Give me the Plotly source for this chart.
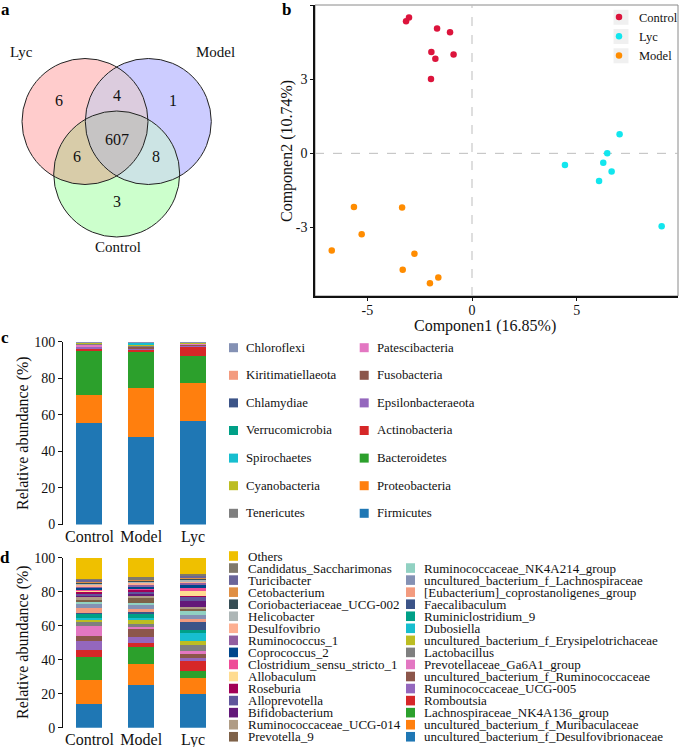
import numpy as np
import plotly.graph_objects as go

W, H = 679, 747
FONT = "Liberation Serif"


def px(x):
    return x / W


def py(y):
    return 1 - y / H


# ---------------- Panel a : Venn ----------------
venn_sets = ["Lyc", "Model", "Control"]
venn_regions = ["Lyc only", "Model only", "Control only", "Lyc&Model", "Lyc&Control", "Model&Control", "All"]
venn_counts = [6, 1, 3, 4, 6, 8, 607]

# ---------------- Panel b : PCA ----------------
control_x = [-3.15, -3.01, -1.67, -1.05, -1.94, -0.88, -1.75, -1.96]
control_y = [5.34, 5.49, 5.05, 4.90, 4.10, 4.00, 3.83, 3.01]
lyc_x = [7.05, 6.46, 4.44, 6.27, 6.67, 6.07, 9.06]
lyc_y = [0.77, 0.00, -0.47, -0.38, -0.73, -1.12, -2.95]
model_x = [-5.64, -3.34, -5.27, -6.70, -2.75, -3.31, -1.61, -2.01]
model_y = [-2.17, -2.19, -3.27, -3.93, -4.06, -4.71, -5.02, -5.25]

# ---------------- Panel c : phylum ----------------
groups = ["Control", "Model", "Lyc"]
phyla = ["Firmicutes", "Proteobacteria", "Bacteroidetes", "Actinobacteria", "Epsilonbacteraeota",
         "Fusobacteria", "Patescibacteria", "Tenericutes", "Cyanobacteria", "Spirochaetes",
         "Verrucomicrobia", "Chlamydiae", "Kiritimatiellaeota", "Chloroflexi"]
phylum_control = [55.8, 15.3, 24.4, 1.0, 0.8, 0.5, 0.8, 0.5, 0.4, 0.1, 0.1, 0.1, 0.1, 0.1]
phylum_model = [47.6, 26.9, 20.0, 1.5, 0.6, 0.7, 0.5, 0.5, 0.3, 0.9, 0.2, 0.1, 0.1, 0.1]
phylum_lyc = [56.7, 20.6, 15.1, 4.9, 0.8, 0.4, 0.5, 0.4, 0.2, 0.1, 0.1, 0.1, 0.05, 0.05]

# ---------------- Panel d : genus ----------------
genera = ["uncultured_bacterium_f_Desulfovibrionaceae", "uncultured_bacterium_f_Muribaculaceae",
          "Lachnospiraceae_NK4A136_group", "Romboutsia", "Ruminococcaceae_UCG-005",
          "uncultured_bacterium_f_Ruminococcaceae", "Prevotellaceae_Ga6A1_group", "Lactobacillus",
          "uncultured_bacterium_f_Erysipelotrichaceae", "Dubosiella", "Ruminiclostridium_9",
          "Faecalibaculum", "[Eubacterium]_coprostanoligenes_group", "uncultured_bacterium_f_Lachnospiraceae",
          "Ruminococcaceae_NK4A214_group", "Prevotella_9", "Ruminococcaceae_UCG-014", "Bifidobacterium",
          "Alloprevotella", "Roseburia", "Allobaculum", "Clostridium_sensu_stricto_1", "Coprococcus_2",
          "Ruminococcus_1", "Desulfovibrio", "Helicobacter", "Coriobacteriaceae_UCG-002", "Cetobacterium",
          "Turicibacter", "Candidatus_Saccharimonas", "Others"]
genus_control = [13.9, 14.1, 13.8, 3.9, 5.3, 2.9, 5.9, 2.4, 1.7, 0.4, 3.0, 0.4, 2.7, 2.1, 1.2, 1.4,
                 2.0, 0.9, 0.6, 1.6, 0.4, 0.6, 1.3, 0.8, 1.0, 0.8, 0.6, 0.4, 1.0, 0.5, 12.4]
genus_model = [24.9, 12.7, 9.7, 2.3, 3.9, 4.5, 1.2, 1.8, 2.7, 1.0, 2.6, 0.9, 1.4, 2.4, 1.5, 3.0,
               1.1, 1.4, 0.8, 1.4, 0.4, 0.6, 1.1, 0.8, 1.2, 0.6, 0.6, 0.8, 0.3, 0.8, 11.6]
genus_lyc = [19.6, 9.5, 4.3, 5.8, 1.6, 3.3, 0.8, 3.5, 2.4, 5.1, 1.6, 4.9, 1.3, 2.4, 2.3, 1.2,
             1.6, 3.5, 2.6, 0.3, 2.8, 2.5, 1.0, 1.8, 0.6, 0.6, 1.3, 0.6, 0.8, 0.6, 9.8]

palette = ["#1F77B4", "#FF7F0E", "#2CA02C", "#D62728", "#9467BD", "#8C564B", "#E377C2", "#7F7F7F",
           "#BCBD22", "#17BECF", "#00A087", "#3C5488", "#F39B7F", "#8491B4", "#91D1C2", "#7E6148",
           "#B09C85", "#631879", "#5F559B", "#A20056", "#FFDC91", "#EE4C97", "#00468B", "#925E9F",
           "#FDAF91", "#ADB6B6", "#374E55", "#DF8F44", "#6A6599", "#80796B", "#EFC000"]

fig = go.Figure()
shapes = []
annotations = []


def note(x, y, text, size, ref="paper", xanchor="center", yanchor="middle", angle=0, color="#111"):
    if ref == "paper":
        x, y = px(x), py(y)
        xr, yr = "paper", "paper"
    else:
        xr, yr = "x", "y"
    annotations.append(dict(x=x, y=y, xref=xr, yref=yr, text=text, showarrow=False,
                            xanchor=xanchor, yanchor=yanchor, textangle=angle,
                            font=dict(family=FONT, size=size, color=color)))


# ---------- Venn geometry ----------
R = 63.0
centers = [(85.0, 121.5), (148.3, 121.5), (116.7, 174.0)]
region_sets = [(0,), (1,), (2,), (0, 1), (0, 2), (1, 2), (0, 1, 2)]
region_colors = ["#FFCCCC", "#CCCCFF", "#CCFFCC", "#DCCCDE", "#D8CCA9", "#CCE4E4", "#C6C4C4"]
region_label_pos = [(59.3, 100), (173.3, 100), (117.3, 201.7), (116.7, 95), (76.7, 156.7), (156, 156.7), (116.7, 139.3)]


def circ(c, r, n=720):
    t = np.linspace(0, 2 * np.pi, n, endpoint=False)
    return np.c_[c[0] + r * np.cos(t), c[1] + r * np.sin(t)]


def inside(p, c, r):
    return (p[:, 0] - c[0]) ** 2 + (p[:, 1] - c[1]) ** 2 <= r * r + 1e-9


def region_poly(idx):
    pts = []
    for i in idx:
        P = circ(centers[i], R)
        mask = np.ones(len(P), bool)
        for j in idx:
            if j != i:
                mask &= inside(P, centers[j], R)
        pts.append(P[mask])
    P = np.vstack(pts)
    m = P.mean(0)
    order = np.argsort(np.arctan2(P[:, 1] - m[1], P[:, 0] - m[0]))
    P = P[order]
    return np.vstack([P, P[:1]])


for idx, col in zip(region_sets, region_colors):
    P = region_poly(idx)
    fig.add_trace(go.Scatter(x=P[:, 0], y=P[:, 1], mode="lines", fill="toself", fillcolor=col,
                             line=dict(width=0), hoverinfo="skip", showlegend=False,
                             xaxis="x", yaxis="y"))

for c in centers:
    shapes.append(dict(type="circle", xref="x", yref="y", x0=c[0] - R, x1=c[0] + R,
                       y0=c[1] - R, y1=c[1] + R, line=dict(color="#222222", width=1)))

for name, cnt, pos in zip(venn_regions, venn_counts, region_label_pos):
    note(pos[0], pos[1], str(cnt), 16, ref="data")
set_label_pos = [(21.7, 51.7), (215.7, 51.7), (117.5, 246.7)]
for s, pos in zip(venn_sets, set_label_pos):
    note(pos[0], pos[1], s, 15, ref="data")

# ---------- Panel b ----------
for nm, xs, ys, col in [("Control", control_x, control_y, "#DC143C"),
                        ("Lyc", lyc_x, lyc_y, "#12E6EE"),
                        ("Model", model_x, model_y, "#FF8C00")]:
    fig.add_trace(go.Scatter(x=xs, y=ys, mode="markers", name=nm,
                             marker=dict(color=col, size=6.5), xaxis="x2", yaxis="y2"))

shapes.append(dict(type="rect", xref="x2 domain", yref="y2 domain", x0=0, x1=1, y0=0, y1=1,
                   line=dict(color="#8A8A8A", width=1), layer="below"))
shapes.append(dict(type="line", xref="x2", yref="y2 domain", x0=0, x1=0, y0=0, y1=1,
                   line=dict(color="#BDBDBD", width=1, dash="dash"), layer="below"))
shapes.append(dict(type="line", xref="x2 domain", yref="y2", x0=0, x1=1, y0=0, y1=0,
                   line=dict(color="#BDBDBD", width=1, dash="dash"), layer="below"))
# legend key backgrounds
for yc in [17.3, 36.55, 55.8]:
    shapes.append(dict(type="rect", xref="paper", yref="paper", x0=px(613.5), x1=px(628.5),
                       y0=py(yc + 7.5), y1=py(yc - 7.5), fillcolor="#F0F0F0",
                       line=dict(width=0), layer="below"))

note(485, 326, "Componen1 (16.85%)", 16)
note(287, 151, "Componen2 (10.74%)", 16, angle=-90)

# ---------- Panel c ----------
for nm, vc, vm, vl, col in zip(phyla, phylum_control, phylum_model, phylum_lyc, palette):
    fig.add_trace(go.Bar(x=groups, y=[vc, vm, vl], name=nm, marker=dict(color=col, line=dict(width=0)),
                         width=0.5, showlegend=False, xaxis="x3", yaxis="y3"))

# ---------- Panel d ----------
for nm, vc, vm, vl, col in zip(genera, genus_control, genus_model, genus_lyc, palette):
    fig.add_trace(go.Bar(x=groups, y=[vc, vm, vl], name=nm, marker=dict(color=col, line=dict(width=0)),
                         width=0.5, showlegend=False, xaxis="x4", yaxis="y4"))

# keys for c and d
rev_ph = list(zip(phyla, palette[:len(phyla)]))[::-1]
for k, (nm, col) in enumerate(rev_ph):
    colidx, row = divmod(k, 7)
    sx = [233.5, 364.2][colidx]
    tx = [244.3, 375.0][colidx]
    yc = 347.7 + 27.6 * row
    shapes.append(dict(type="rect", xref="paper", yref="paper", x0=px(sx - 4.5), x1=px(sx + 4.5),
                       y0=py(yc + 4.5), y1=py(yc - 4.5), fillcolor=col, line=dict(width=0)))
    note(tx, yc, nm, 12.8, xanchor="left")

rev_ge = list(zip(genera, palette))[::-1]
for k, (nm, col) in enumerate(rev_ge):
    if k < 16:
        row, sx, tx = k, 233.5, 245.7
    else:
        row, sx, tx = k - 15, 410.5, 421.7
    yc = 556.0 + 12.05 * row
    shapes.append(dict(type="rect", xref="paper", yref="paper", x0=px(sx - 4.5), x1=px(sx + 4.5),
                       y0=py(yc + 4.8), y1=py(yc - 4.8), fillcolor=col, line=dict(width=0)))
    note(tx, yc, nm, 13, xanchor="left")

for yc in [433, 642]:
    note(23, yc, "Relative abundance (%)", 16, angle=-90)

for lt, (lx, ly) in zip(["a", "b", "c", "d"], [(5, 9), (286, 9), (5, 337), (5, 557)]):
    note(lx, ly, "<b>%s</b>" % lt, 17, color="#000")

tickfont = dict(family=FONT, size=14, color="#111")
bar_y = dict(range=[0, 100], tickvals=[0, 20, 40, 60, 80, 100], ticks="outside", ticklen=4,
             tickcolor="#111", showline=True, linecolor="#111", linewidth=1, showgrid=False,
             zeroline=False, tickfont=tickfont)
bar_x = dict(type="category", categoryorder="array", categoryarray=groups, range=[-0.51, 2.51],
             showline=False, ticks="", showgrid=False, zeroline=False,
             tickfont=dict(family=FONT, size=16, color="#111"))

fig.update_layout(
    width=W, height=H, margin=dict(l=0, r=0, t=0, b=0, pad=0, autoexpand=False),
    paper_bgcolor="white", plot_bgcolor="rgba(0,0,0,0)",
    barmode="stack", bargap=0.5,
    font=dict(family=FONT, color="#111"),
    xaxis=dict(domain=[0, px(300)], range=[0, 300], visible=False, fixedrange=True),
    yaxis=dict(domain=[py(300), 1], range=[300, 0], visible=False, fixedrange=True),
    xaxis2=dict(domain=[px(315), px(678)], range=[-7.5, 9.84], tickvals=[-5, 0, 5],
                ticktext=["-5", "0", "5"], ticks="outside", ticklen=3, tickcolor="#111",
                showline=True, linecolor="#111", linewidth=1.6, showgrid=False, zeroline=False,
                tickfont=tickfont, anchor="y2", ticklabelstandoff=-3),
    yaxis2=dict(domain=[py(296), py(5)], range=[-5.77, 6], tickvals=[-3, 0, 3, 6],
                ticktext=["-3", "0", "3", "6"], ticks="outside", ticklen=3, tickcolor="#111",
                showline=True, linecolor="#111", linewidth=1.6, showgrid=False, zeroline=False,
                tickfont=tickfont, anchor="x2"),
    xaxis3=dict(domain=[px(63), px(219.5)], anchor="y3", **bar_x),
    yaxis3=dict(domain=[py(524.5), py(341.7)], anchor="x3", **bar_y),
    xaxis4=dict(domain=[px(63), px(219.5)], anchor="y4", **bar_x),
    yaxis4=dict(domain=[py(727.7), py(557.7)], anchor="x4", **bar_y),
    legend=dict(x=px(599), y=py(2.3), xanchor="left", yanchor="top", bgcolor="rgba(0,0,0,0)",
                font=dict(family=FONT, size=12.5, color="#111"), tracegroupgap=0,
                traceorder="normal"),
    shapes=shapes, annotations=annotations,
)

fig.write_html("out.html", config={"displayModeBar": False},
               post_script="document.body.style.margin='0px';document.body.style.padding='0px';")
